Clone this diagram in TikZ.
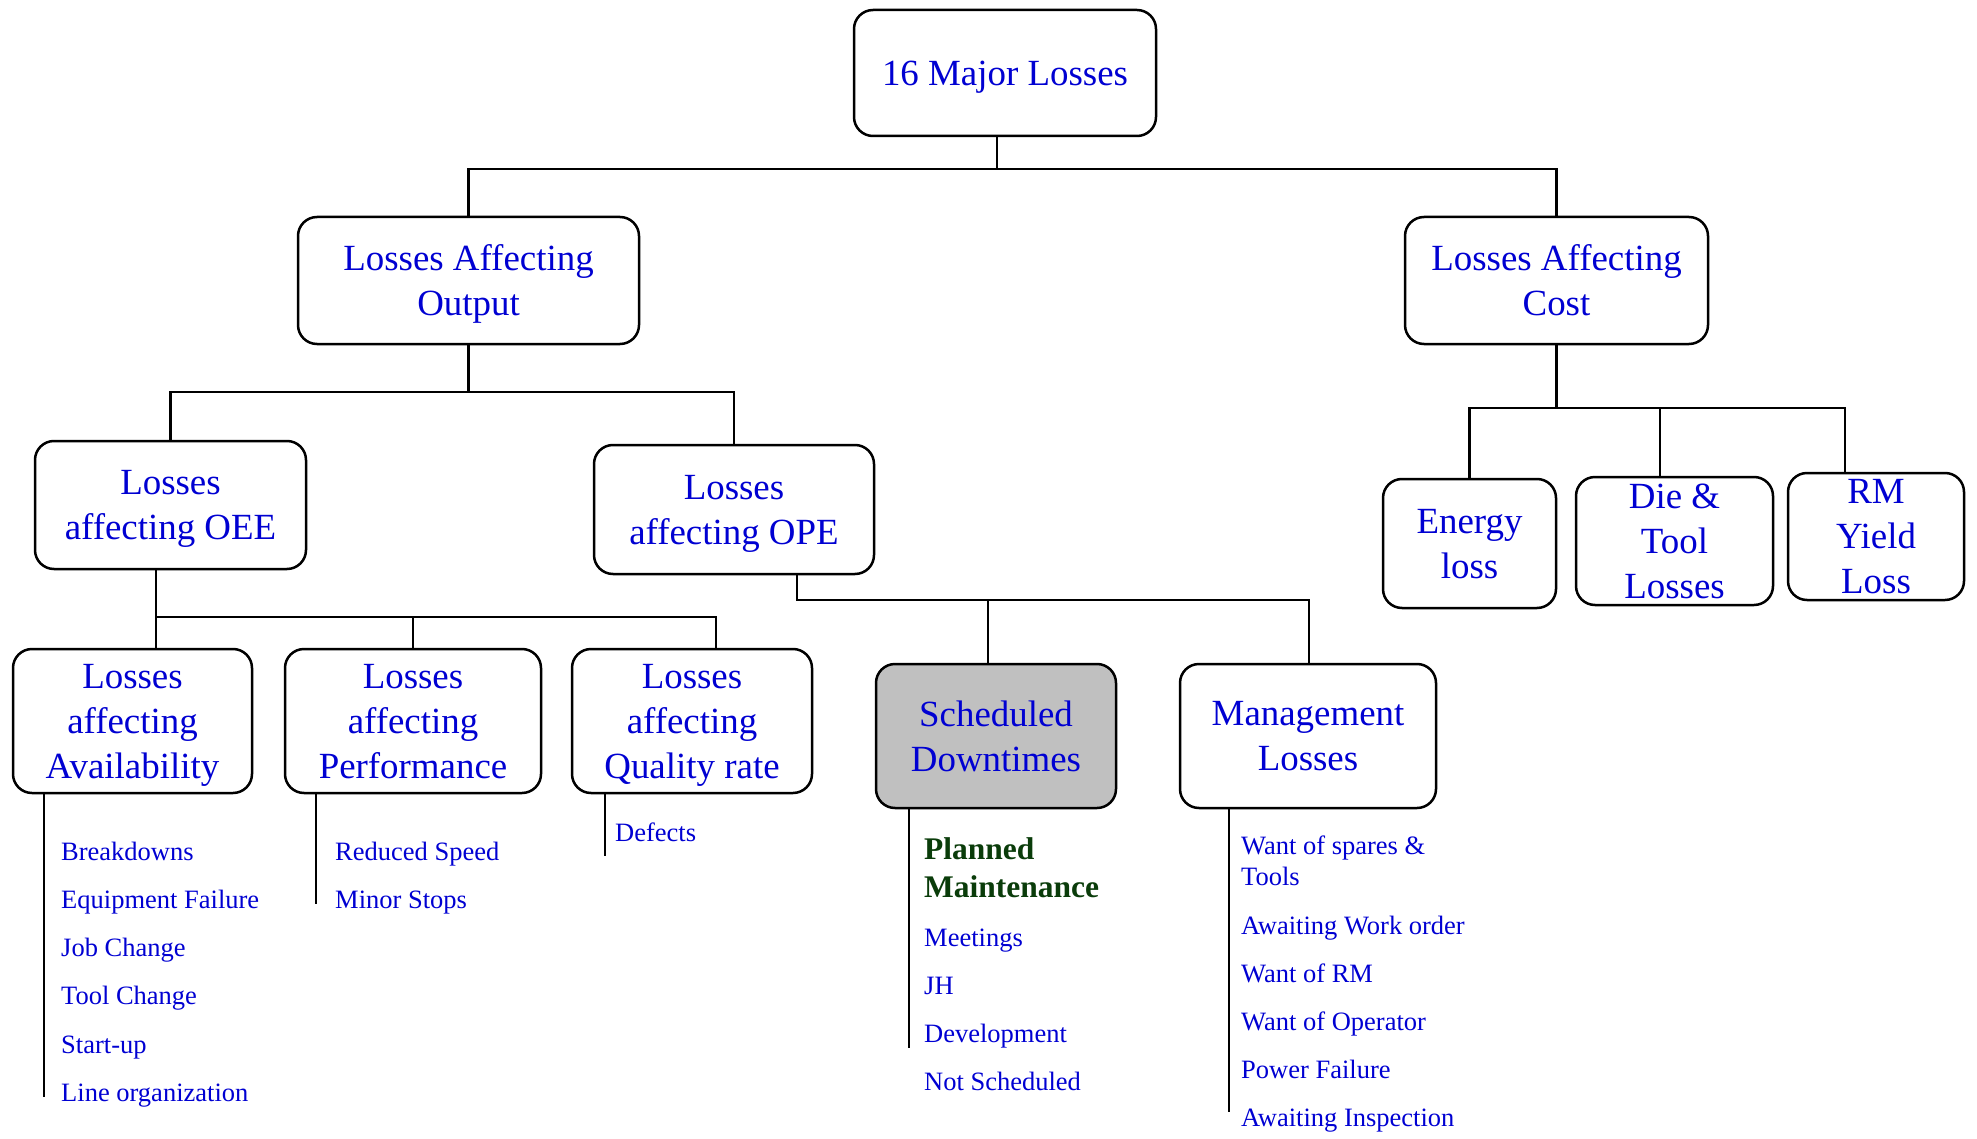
\documentclass[tikz,border=0pt]{standalone}
\usepackage{fontspec}
\setmainfont{Liberation Serif}
\definecolor{txtblue}{RGB}{0,0,210}
\definecolor{pmgreen}{RGB}{10,60,10}
\definecolor{boxgray}{RGB}{192,192,192}
\begin{document}
\begin{tikzpicture}[x=1pt,y=-1pt,
  box/.style={draw=black,line width=2.5pt,rounded corners=19pt,fill=white,
    align=center,text=txtblue,inner sep=0pt,text depth=-9pt,
    font=\fontsize{36.9}{45}\selectfont},
  conn/.style={line width=2.2pt,line cap=rect},
  listline/.style={line width=2pt},
  item/.style={anchor=base west,inner sep=0pt,text=txtblue,
    font=\fontsize{26.5}{31.5}\selectfont,align=left},
  pm/.style={anchor=base west,inner sep=0pt,text=pmgreen,
    font=\bfseries\fontsize{31.5}{38}\selectfont,align=left}]
\useasboundingbox (0,0) rectangle (1977,1139);
% boxes
\node[box,minimum width=302pt,minimum height=126pt] (root) at (1005,73) {16 Major Losses};
\node[box,minimum width=341pt,minimum height=127pt] (out) at (468.5,280.5) {Losses Affecting\\Output};
\node[box,minimum width=303pt,minimum height=127pt] (cost) at (1556.5,280.5) {Losses Affecting\\Cost};
\node[box,minimum width=271pt,minimum height=128pt] (oee) at (170.5,505) {Losses\\affecting OEE};
\node[box,minimum width=280pt,minimum height=129pt] (ope) at (734,509.5) {Losses\\affecting OPE};
\node[box,minimum width=239pt,minimum height=144pt] (avail) at (132.5,721) {Losses\\affecting\\Availability};
\node[box,minimum width=256pt,minimum height=144pt] (perf) at (413,721) {Losses\\affecting\\Performance};
\node[box,minimum width=240pt,minimum height=144pt] (qual) at (692,721) {Losses\\affecting\\Quality rate};
\node[box,fill=boxgray,minimum width=240pt,minimum height=144pt] (sched) at (996,736) {Scheduled\\Downtimes};
\node[box,minimum width=256pt,minimum height=144pt] (mgmt) at (1308,736) {Management\\Losses};
\node[box,minimum width=173pt,minimum height=129pt] (energy) at (1469.5,543.5) {Energy\\loss};
\node[box,minimum width=197pt,minimum height=128pt] (die) at (1674.5,541) {Die \&\\Tool\\Losses};
\node[box,minimum width=176pt,minimum height=127pt] (rm) at (1876,536.5) {RM\\Yield\\Loss};
% bus coordinates
\coordinate (b1) at (997,169);
\coordinate (b2) at (469,392);
\coordinate (b3L) at (156,617);
\coordinate (b3R) at (716,617);
\coordinate (b4L) at (797,600);
\coordinate (b4M) at (988,600);
\coordinate (b4R) at (1309,600);
\coordinate (b5C) at (1557,408);
\coordinate (b5M) at (1660,408);
\coordinate (b5R) at (1845,408);
% connectors
\draw[conn] (root.south -| b1) -- (b1);
\draw[conn] (out.north) -- (out.north |- b1) -- (cost.north |- b1) -- (cost.north);
\draw[conn] (out.south) -- (out.south |- b2);
\draw[conn] (oee.north) -- (oee.north |- b2) -- (ope.north |- b2) -- (ope.north);
\draw[conn] (oee.south -| b3L) -- (avail.north -| b3L);
\draw[conn] (b3L) -- (b3R) -- (qual.north -| b3R);
\draw[conn] (perf.north) -- (perf.north |- b3L);
\draw[conn] (ope.south -| b4L) -- (b4L) -- (b4R) -- (mgmt.north -| b4R);
\draw[conn] (b4M) -- (sched.north -| b4M);
\draw[conn] (cost.south) -- (cost.south |- b5C);
\draw[conn] (energy.north) -- (energy.north |- b5C) -- (b5R) -- (rm.north -| b5R);
\draw[conn] (b5M) -- (die.north -| b5M);
% list lines
\coordinate (l1) at (44,1097);
\coordinate (l2) at (316,904);
\coordinate (l3) at (605,856);
\coordinate (l4) at (909,1048);
\coordinate (l5) at (1229,1112);
\draw[listline] (avail.south -| l1) -- (l1);
\draw[listline] (perf.south -| l2) -- (l2);
\draw[listline] (qual.south -| l3) -- (l3);
\draw[listline] (sched.south -| l4) -- (l4);
\draw[listline] (mgmt.south -| l5) -- (l5);
% items availability
\node[item] (a1) at (61,860) {Breakdowns};
\node[item] (a2) at (61,908) {Equipment Failure};
\node[item] (a3) at (61,956) {Job Change};
\node[item] (a4) at (61,1004) {Tool Change};
\node[item] (a5) at (61,1053) {Start-up};
\node[item] (a6) at (61,1101) {Line organization};
% performance
\node[item] (p1) at (335,860) {Reduced Speed};
\node[item] (p2) at (335,908) {Minor Stops};
% quality
\node[item] (q1) at (615,841) {Defects};
% scheduled
\node[pm] (s0) at (924,897) {Planned\\Maintenance};
\node[item] (s1) at (924,946) {Meetings};
\node[item] (s2) at (924,994) {JH};
\node[item] (s3) at (924,1042) {Development};
\node[item] (s4) at (924,1090) {Not Scheduled};
% management
\node[item] (m1) at (1241,885.5) {Want of spares \&\\Tools};
\node[item] (m2) at (1241,934) {Awaiting Work order};
\node[item] (m3) at (1241,982) {Want of RM};
\node[item] (m4) at (1241,1030) {Want of Operator};
\node[item] (m5) at (1241,1078) {Power Failure};
\node[item] (m6) at (1241,1126) {Awaiting Inspection};
\end{tikzpicture}
\end{document}
